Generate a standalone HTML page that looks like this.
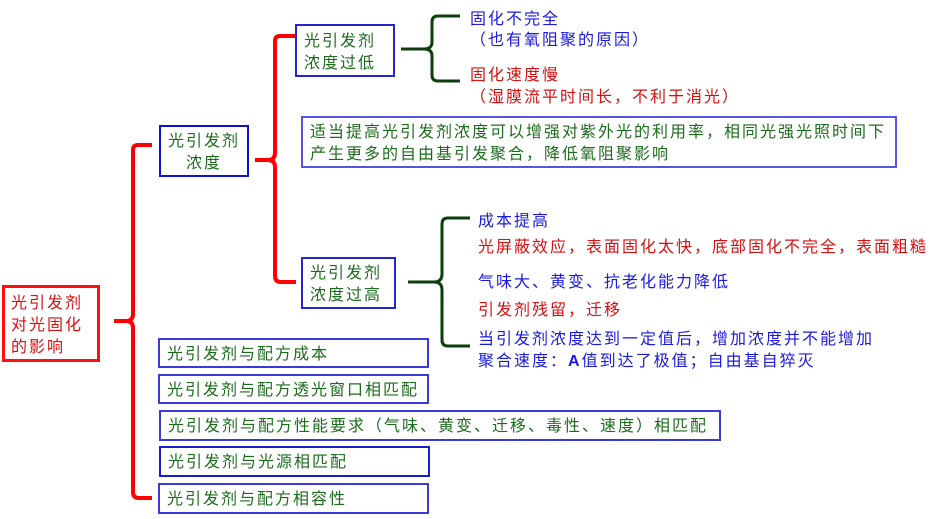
<!DOCTYPE html>
<html><head><meta charset="utf-8"><style>
body{margin:0;width:950px;height:519px;background:#fff;position:relative;overflow:hidden;font-family:"Liberation Sans","Noto Sans CJK SC",sans-serif}
.t{position:absolute;font-size:16px;line-height:22px;letter-spacing:2px;white-space:nowrap}
.g{color:#1d6b1d}.b{color:#1a1adc}.r{color:#d41010}
.box{position:absolute;border:2px solid #2525d0;box-sizing:border-box;background:#fff}
</style></head><body>
<svg width="950" height="519" style="position:absolute;left:0;top:0">
<g fill="none" stroke="#ff0000" stroke-width="4">
<path d="M152 145 H138 Q133 145 133 150 V314 Q133 321 126 321 H114 M126 321 Q133 321 133 328 V492 Q133 498 139 498 H152"/>
<path d="M296 36 H280 Q275 36 275 41 V153 Q275 160 268 160 H255 M268 160 Q275 160 275 167 V276 Q275 282 281 282 H296"/>
</g>
<g fill="none" stroke="#0e3d0e" stroke-width="3">
<path d="M460 16 H438 Q432 16 432 22 V42 Q432 49 424 49 H401 M424 49 Q432 49 432 56 V75 Q432 81 438 81 H460"/>
<path d="M470 218 H448 Q442 218 442 224 V274 Q442 282 434 282 H408 M434 282 Q442 282 442 290 V340 Q442 346 448 346 H470"/>
</g>
</svg>
<div class="box" style="left:2px;top:285px;width:98px;height:77px;border:3px solid #ff1010"></div>
<div class="t r" style="left:11px;top:293px;line-height:22px">光引发剂<br>对光固化<br>的影响</div>
<div class="box" style="left:159px;top:125px;width:90px;height:52px;border-color:#1010d0"></div>
<div class="t g" style="left:159px;top:131px;width:90px;text-align:center">光引发剂<br>浓度</div>
<div class="box" style="left:295px;top:24px;width:100px;height:53px"></div>
<div class="t g" style="left:304px;top:31px">光引发剂<br>浓度过低</div>
<div class="box" style="left:301px;top:116px;width:596px;height:52px;border-color:#5555e0"></div>
<div class="t g" style="left:310px;top:122px">适当提高光引发剂浓度可以增强对紫外光的利用率，相同光强光照时间下<br>产生更多的自由基引发聚合，降低氧阻聚影响</div>
<div class="box" style="left:301px;top:257px;width:95px;height:52px"></div>
<div class="t g" style="left:310px;top:263px">光引发剂<br>浓度过高</div>
<div class="t b" style="left:470px;top:9px">固化不完全</div>
<div class="t b" style="left:470px;top:30px">（也有氧阻聚的原因）</div>
<div class="t r" style="left:470px;top:65px">固化速度慢</div>
<div class="t r" style="left:470px;top:87px">（湿膜流平时间长，不利于消光）</div>
<div class="t b" style="left:478px;top:211px">成本提高</div>
<div class="t r" style="left:478px;top:237px">光屏蔽效应，表面固化太快，底部固化不完全，表面粗糙</div>
<div class="t b" style="left:478px;top:272px">气味大、黄变、抗老化能力降低</div>
<div class="t r" style="left:478px;top:300px">引发剂残留，迁移</div>
<div class="t b" style="left:478px;top:329px">当引发剂浓度达到一定值后，增加浓度并不能增加<br>聚合速度：<b>A</b>值到达了极值；自由基自猝灭</div>
<div class="box" style="left:158px;top:338px;width:271px;height:30px;border-color:#3a3ad8"></div>
<div class="t g" style="left:167px;top:344px">光引发剂与配方成本</div>
<div class="box" style="left:158px;top:374px;width:271px;height:30px;border-color:#3a3ad8"></div>
<div class="t g" style="left:167px;top:380px">光引发剂与配方透光窗口相匹配</div>
<div class="box" style="left:159px;top:410px;width:562px;height:31px;border-color:#3a3ad8"></div>
<div class="t g" style="left:168px;top:416px">光引发剂与配方性能要求（气味、黄变、迁移、毒性、速度）相匹配</div>
<div class="box" style="left:159px;top:446px;width:271px;height:31px;border-color:#1a1ad0"></div>
<div class="t g" style="left:168px;top:452px">光引发剂与光源相匹配</div>
<div class="box" style="left:158px;top:483px;width:271px;height:31px;border-color:#3a3ad8"></div>
<div class="t g" style="left:167px;top:489px">光引发剂与配方相容性</div>
</body></html>
